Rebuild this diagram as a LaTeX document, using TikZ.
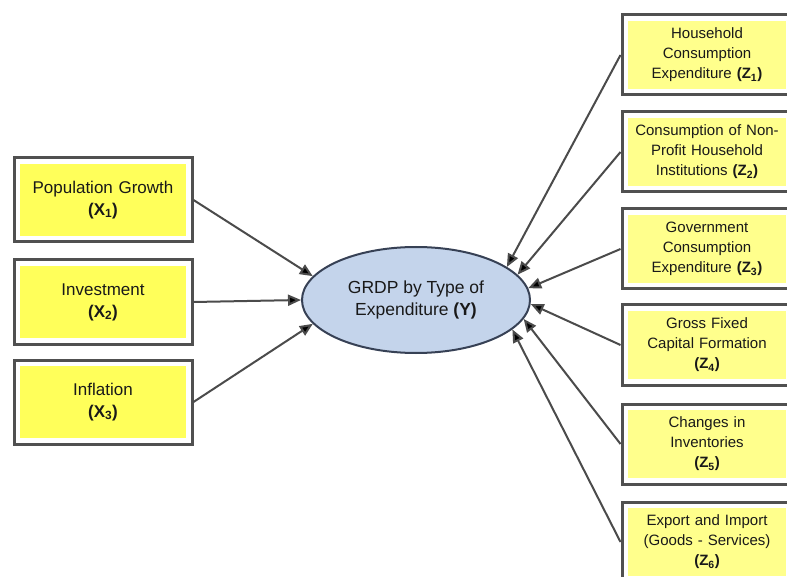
\documentclass[tikz,border=0pt]{standalone}
\usepackage{fontspec}
\setmainfont{Liberation Sans}
\usetikzlibrary{arrows.meta,shapes.geometric}

\definecolor{framegray}{RGB}{80,80,80}
\definecolor{xyellow}{RGB}{255,255,90}
\definecolor{zyellow}{RGB}{255,255,140}
\definecolor{yblue}{RGB}{196,212,235}
\definecolor{yline}{RGB}{55,65,85}
\definecolor{linkgray}{RGB}{75,75,75}
\definecolor{txt}{RGB}{25,25,25}

\begin{document}
\begin{tikzpicture}[x=1pt, y=-1pt,
  varbox/.style={rectangle, draw=framegray, line width=3pt, fill=white,
    align=center, text=txt, inner sep=0pt,
    path picture={\fill[#1] ([shift={(6pt,6pt)}]path picture bounding box.south west)
      rectangle ([shift={(-6pt,-6pt)}]path picture bounding box.north east);}},
  xbox/.style={varbox=xyellow, minimum width=178pt, minimum height=84pt,
    text width=170pt, font=\fontsize{17}{22}\selectfont},
  zbox/.style={varbox=zyellow, minimum width=170pt, minimum height=80pt,
    text width=160pt, font=\fontsize{15}{20}\selectfont},
  target/.style={ellipse, draw=yline, line width=2pt, fill=yblue, inner sep=0pt,
    minimum width=228pt, minimum height=106pt, align=center, text=txt,
    font=\fontsize{17.5}{22}\selectfont},
  link/.style={draw=linkgray, line width=2pt, -{Triangle[length=13pt,width=11pt,fill=black]}}]
  \useasboundingbox (0,0) rectangle (787,577);
  \clip (0,0) rectangle (787,577);

  % independent variables
  \node[xbox] (x1) at (103,200) {Population Growth\\\textbf{(X\textsubscript{1})}};
  \node[xbox] (x2) at (103,302) {Investment\\\textbf{(X\textsubscript{2})}};
  \node[xbox] (x3) at (103,402) {Inflation\\\textbf{(X\textsubscript{3})}};

  % dependent variable
  \node[target] (y) at (416,300) {GRDP by Type of\\Expenditure \textbf{(Y)}};

  % components
  \node[zbox] (z1) at (707,55) {Household\\Consumption\\Expenditure \textbf{(Z\textsubscript{1})}};
  \node[zbox] (z2) at (707,152) {Consumption of Non-\\Profit Household\\Institutions \textbf{(Z\textsubscript{2})}};
  \node[zbox] (z3) at (707,249) {Government\\Consumption\\Expenditure \textbf{(Z\textsubscript{3})}};
  \node[zbox] (z4) at (707,345) {Gross Fixed\\Capital Formation\\\textbf{(Z\textsubscript{4})}};
  \node[zbox] (z5) at (707,444) {Changes in\\Inventories\\\textbf{(Z\textsubscript{5})}};
  \node[zbox] (z6) at (707,542) {Export and Import\\(Goods - Services)\\\textbf{(Z\textsubscript{6})}};

  \foreach \v/\a in {x1/167, x2/180, x3/193}
    \draw[link] (\v.east) -- (y.\a);
  \foreach \v/\a in {z1/20, z2/14, z3/6, z4/358, z5/350, z6/343}
    \draw[link] (\v.west) -- (y.\a);
\end{tikzpicture}
\end{document}
